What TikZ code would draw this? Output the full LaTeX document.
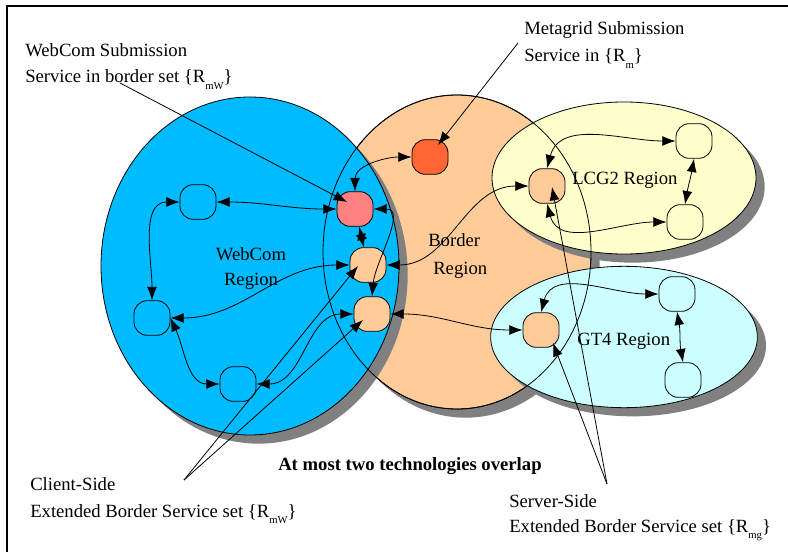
\documentclass[tikz,border=0pt]{standalone}
\usepackage{fontspec}
\setmainfont{Liberation Serif}
\usetikzlibrary{arrows.meta, shapes.geometric, shadows}

\definecolor{webblue}{RGB}{0,187,255}
\definecolor{peach}{RGB}{255,204,153}
\definecolor{subpink}{RGB}{255,128,128}
\definecolor{metared}{RGB}{255,102,51}
\definecolor{lcgyellow}{RGB}{255,255,204}
\definecolor{gtcyan}{RGB}{204,255,255}
\definecolor{shade}{RGB}{128,128,128}

\newcommand{\rsub}[1]{\raisebox{-5pt}{\fontsize{8}{8}\selectfont #1}}

\begin{document}
\begin{tikzpicture}[x=0.75pt, y=-0.75pt,
    >={Latex[length=10pt,width=7.5pt]},
    region/.style={ellipse, draw, line width=0.6pt, inner sep=0pt,
        drop shadow={shadow xshift=6.5pt, shadow yshift=-6.5pt, fill=shade, opacity=1}},
    svc/.style={draw, rounded corners=10pt, minimum width=27pt, minimum height=26pt,
        inner sep=0pt, line width=0.6pt},
    lbl/.style={inner sep=0pt, font=\fontsize{14}{17}\selectfont},
    link/.style={<->, line width=0.6pt},
    ptr/.style={->, line width=0.6pt}]
    \useasboundingbox (0,0) rectangle (788,552);
    \draw[line width=1pt] (7,552) -- (7,6) -- (788,6);

    \node[region, fill=peach, minimum width=201pt, minimum height=235.5pt] (border) at (457,252) {};
    \node[region, fill=webblue, minimum width=223.5pt, minimum height=253.5pt] (webcom) at (250,266) {};
    \node[region, fill=lcgyellow, minimum width=198pt, minimum height=114pt] (lcg) at (624,178) {};
    \node[region, fill=gtcyan, minimum width=200pt, minimum height=106pt] (gt) at (624,337) {};
    \node[ellipse, draw, line width=0.6pt, inner sep=0pt, minimum width=201pt, minimum height=235.5pt] (borderline) at (border) {};

    \node[svc, fill=webblue] (b1) at (198,202) {};
    \node[svc, fill=webblue] (b2) at (152,318) {};
    \node[svc, fill=webblue] (b3) at (238,384) {};
    \node[svc, fill=subpink] (pink) at (355,209) {};
    \node[svc, fill=peach] (c1) at (368,265) {};
    \node[svc, fill=peach] (c2) at (372,314) {};
    \node[svc, fill=metared] (meta) at (430,157) {};
    \node[svc, fill=peach] (s1) at (547,186) {};
    \node[svc, fill=peach] (s2) at (541,330) {};
    \node[svc, fill=lcgyellow] (l1) at (694,141) {};
    \node[svc, fill=lcgyellow] (l2) at (685,222) {};
    \node[svc, fill=gtcyan] (g1) at (677,294) {};
    \node[svc, fill=gtcyan] (g2) at (683,380) {};

    \node[lbl, anchor=base] (webtxt) at (251,260) {WebCom};
    \node[lbl, anchor=base] (webtxt2) at (251,285) {Region};
    \node[lbl, anchor=base west] (bordtxt) at (428,247) {Border};
    \node[lbl, anchor=base west] (bordtxt2) at (433,274) {Region};
    \node[lbl, anchor=base west] (lcgtxt) at (572,185) {LCG2 Region};
    \node[lbl, anchor=base west] (gttxt) at (577,345) {GT4 Region};

    \node[lbl, anchor=base west] (wcsub) at (25,57) {WebCom Submission};
    \node[lbl, anchor=base west] (wcsvc) at (25,83) {Service in border set \{R\rsub{mW}\}};
    \node[lbl, anchor=base west] (mgsub) at (524,35) {Metagrid Submission};
    \node[lbl, anchor=base west] (mgsvc) at (524,62) {Service in \{R\rsub{m}\}};
    \node[lbl, anchor=base west, font=\fontsize{14}{17}\selectfont\bfseries] (overlap) at (278,470) {At most two technologies overlap};
    \node[lbl, anchor=base west] (client) at (30,490) {Client-Side};
    \node[lbl, anchor=base west] (client2) at (30,517) {Extended Border Service set \{R\rsub{mW}\}};
    \node[lbl, anchor=base west] (server) at (509,507) {Server-Side};
    \node[lbl, anchor=base west] (server2) at (509,532) {Extended Border Service set \{R\rsub{mg}\}};

    \draw[link] (b1.east) to[out=0,in=180] (pink.west);
    \draw[link] (b1.west) to[out=180,in=90] (b2.north);
    \draw[link] (c1.west) to[out=180,in=0] (b2.east);
    \draw[link] (b2.east) to[out=-65,in=180] (b3.west);
    \draw[link] (b3.east) to[out=0,in=180] (c2.west);
    \draw[link] (pink.north) to[out=90,in=180] (meta.west);
    \draw[link] (pink) -- (c1);
    \draw[link] (c2.north) to[out=85,in=0] (pink.east);
    \draw[link] (c1.east) to[out=0,in=180] (s1.west);
    \draw[link] (c2.east) to[out=0,in=180] (s2.west);
    \draw[link] (s1.north) to[out=75,in=180] (l1.west);
    \draw[link] (s1.south) to[out=-75,in=180] (l2.west);
    \draw[link] (l1.south) to[out=-100,in=80] (l2.north);
    \draw[link] (s2.north) to[out=75,in=180] (g1.west);
    \draw[link] (g1.south) to[out=-80,in=100] (g2.north);

    \coordinate (wctail) at (120,83);
    \coordinate (mgtail) at (518,43);
    \coordinate (cltail) at (184,480);
    \coordinate (svtail) at (607,484);
    \draw[ptr] (wctail) -- ([shift={(-8,-7)}]pink.center);
    \draw[ptr] (mgtail) -- ([shift={(8,-12)}]meta.center);
    \draw[ptr] (cltail) -- ([shift={(-10,1)}]c1.center);
    \draw[ptr] (cltail) -- ([shift={(-9,6)}]c2.center);
    \draw[ptr] (svtail) -- ([shift={(5,1)}]s1.center);
    \draw[ptr] (svtail) -- ([shift={(12,13)}]s2.center);
\end{tikzpicture}
\end{document}
